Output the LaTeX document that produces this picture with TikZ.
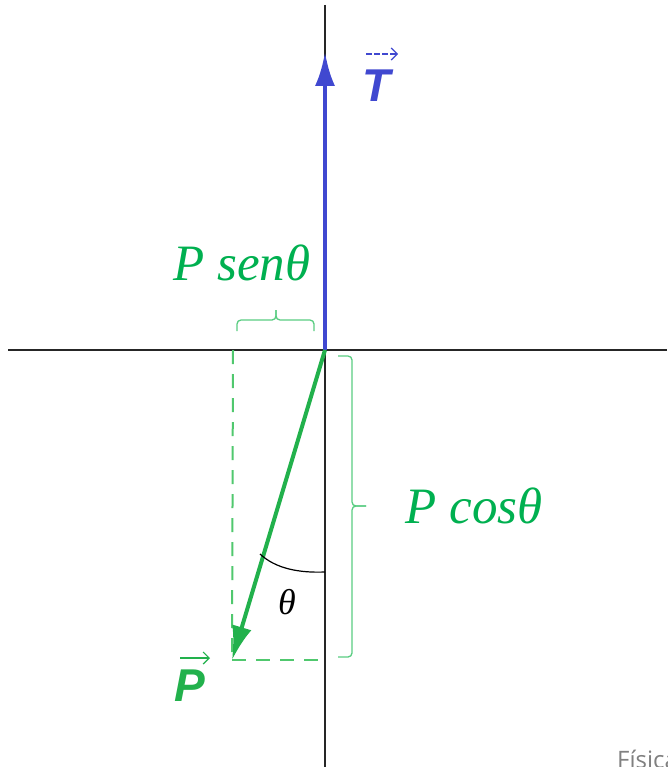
\documentclass[tikz,border=0pt]{standalone}
\usepackage{fontspec}
\usetikzlibrary{arrows.meta}
\newfontfamily\lsans{Liberation Sans}
\newfontfamily\lserif{Liberation Serif}
\newfontfamily\osans{Open Sans}
\definecolor{tblue}{RGB}{64,72,208}
\definecolor{pgreen}{RGB}{34,177,76}
\definecolor{lgreen}{RGB}{0,176,80}
\definecolor{dgreen}{RGB}{80,200,110}
\definecolor{bgreen}{RGB}{90,205,130}
\begin{document}
\begin{tikzpicture}[x=1pt,y=-1pt,
  axis/.style={line width=1.5pt,black!85},
  vecT/.style={line width=4.5pt,tblue,-{Latex[length=34pt,width=20pt]}},
  vecP/.style={line width=4pt,pgreen,-{Latex[length=34pt,width=20pt]}},
  comp/.style={line width=2pt,dgreen,dash pattern=on 14pt off 10pt},
  bracestyle/.style={line width=1.3pt,bgreen,rounded corners=4pt},
  lbl/.style={inner sep=0pt,text=lgreen,font=\fontsize{51}{56}\selectfont\lserif\itshape},
  vlbl/.style={inner sep=0pt,font=\fontsize{46}{50}\selectfont\lsans\bfseries\itshape}]
\useasboundingbox (0,0) rectangle (667,767);
\fill[white] (0,0) rectangle (667,767);
% axes
\coordinate (Vtop) at (325,5);
\coordinate (Vbot) at (325,767);
\coordinate (Hl) at (8,350);
\coordinate (Hr) at (667,350);
\draw[axis] (Vtop) -- (Vbot);
\draw[axis] (Hl) -- (Hr);
% points
\coordinate (O) at (325,350);
\coordinate (Ttip) at (325,52);
\coordinate (Ptip) at (232,660);
\coordinate (Xs) at (233,350);
\coordinate (Ys) at (325,660);
% components dashed
\draw[comp] (Xs) -- (Ptip);
\draw[comp] (Ptip) -- (Ys);
% vectors
\draw[vecT] (O) -- (Ttip);
\draw[vecP] (O) -- (Ptip);
% angle arc
\coordinate (A1) at (260,554);
\coordinate (A2) at (325,572);
\draw[line width=1.2pt,black] (A1) .. controls (276,569) and (300,573) .. (A2);
\node[inner sep=0pt,font=\fontsize{36}{40}\selectfont\lserif\itshape] (th) at (287,602) {θ};
% braces (bracket style)
\coordinate (B1) at (237,331);
\coordinate (B2) at (314,331);
\coordinate (Btip) at (276,310);
\draw[bracestyle] (B1) -- (237,320) -- (276,320) -- (Btip);
\draw[bracestyle] (Btip) -- (276,320) -- (314,320) -- (B2);
\coordinate (C1) at (338,356);
\coordinate (C2) at (338,657);
\coordinate (Ctip) at (366,506);
\draw[bracestyle] (C1) -- (352,356) -- (352,506) -- (Ctip);
\draw[bracestyle] (Ctip) -- (352,506) -- (352,657) -- (C2);
% labels
\node[lbl] (sen) at (242,263) {P senθ};
\node[lbl] (cos) at (474,506) {P cosθ};
\node[vlbl,text=tblue] (T) at (377,86) {T};
\coordinate (Ta1) at (366,54);
\coordinate (Ta2) at (398,54);
\draw[tblue,line width=1.2pt,-{Straight Barb[length=6pt,width=12pt]},dash pattern=on 6pt off 2pt] (Ta1) -- (Ta2);
\node[vlbl,text=pgreen] (P) at (190,686) {P};
\coordinate (Pa1) at (180,658);
\coordinate (Pa2) at (210,658);
\draw[pgreen,line width=1.2pt,-{Straight Barb[length=6pt,width=12pt]}] (Pa1) -- (Pa2);
\node[inner sep=0pt,anchor=base west,text=black!50,font=\fontsize{24}{28}\selectfont\osans] (fis) at (617,768) {Física};
\end{tikzpicture}
\end{document}
